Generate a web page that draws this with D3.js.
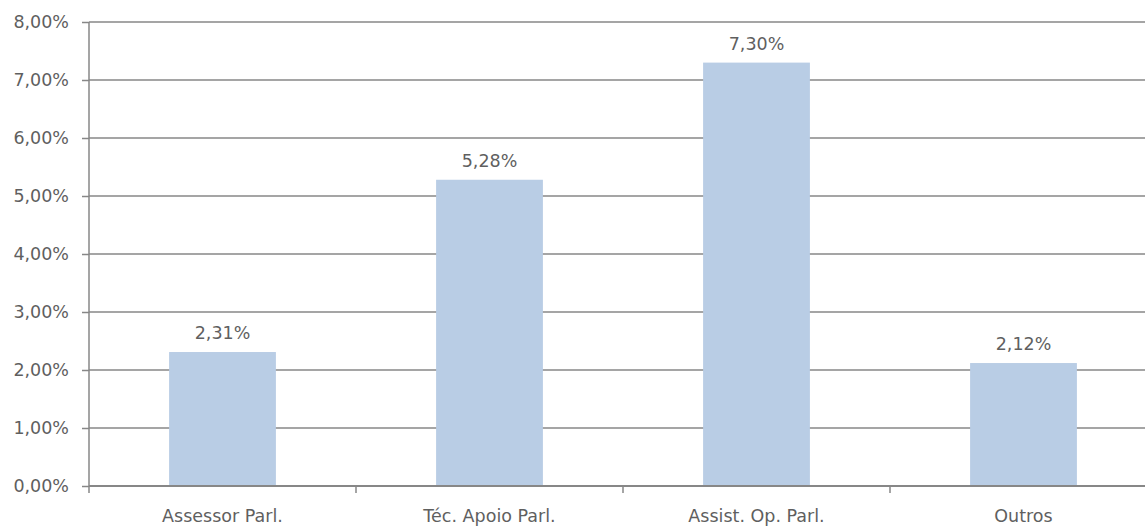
<!DOCTYPE html>
<html><head><meta charset="utf-8">
<script src="https://cdn.jsdelivr.net/npm/d3@7"></script>
<style>body{margin:0;background:#fff}svg text{font-family:"DejaVu Sans",sans-serif;fill:#5f5f5f}</style>
</head><body>
<svg id="c" width="1145" height="526"></svg>
<script>
const categories = ["Assessor Parl.", "Téc. Apoio Parl.", "Assist. Op. Parl.", "Outros"];
const values = [2.31, 5.28, 7.30, 2.12];
const yTicks = [0,1,2,3,4,5,6,7,8];

const svg = d3.select("#c");
const m = {l:89, t:22, r:1157, b:486};
const x = d3.scaleBand().domain(categories).range([m.l, m.r]).paddingInner(0.6).paddingOuter(0.3);
const xb = d3.scaleBand().domain(categories).range([m.l, m.r]);
const y = d3.scaleLinear().domain([0,8]).range([m.b, m.t]);
const fmt = v => v.toFixed(2).replace(".", ",") + "%";
const grid = "#878787";
const fs = 17.5;

svg.append("g").selectAll("line").data(yTicks).join("line")
  .attr("x1", m.l).attr("x2", m.r).attr("y1", d=>y(d)).attr("y2", d=>y(d))
  .attr("stroke", grid).attr("stroke-width", 1.5);

svg.append("g").selectAll("rect").data(values).join("rect")
  .attr("x", (d,i)=>x(categories[i])).attr("width", x.bandwidth())
  .attr("y", d=>y(d)).attr("height", d=>y(0)-y(d)).attr("fill", "#b9cde5");

const ya = svg.append("g").attr("transform", `translate(${m.l},0)`)
  .call(d3.axisLeft(y).tickValues(yTicks).tickFormat(d=>fmt(d)).tickSize(7).tickPadding(13));
ya.select(".domain").attr("stroke", grid).attr("stroke-width", 1.5).attr("d", `M0,${m.t}V${m.b}`);
ya.selectAll(".tick line").attr("stroke", grid).attr("stroke-width", 1.5);
ya.selectAll(".tick text").attr("font-size", fs).attr("fill", "#5f5f5f").attr("font-family", "DejaVu Sans");

// bottom axis
svg.append("line").attr("x1", m.l).attr("x2", m.r).attr("y1", m.b).attr("y2", m.b).attr("stroke", grid).attr("stroke-width", 2);
svg.append("g").selectAll("line").data(categories.concat(["_end"])).join("line")
  .attr("x1", (d,i)=> m.l + i*xb.bandwidth()).attr("x2", (d,i)=> m.l + i*xb.bandwidth())
  .attr("y1", m.b).attr("y2", m.b+7).attr("stroke", grid).attr("stroke-width", 1.5);
svg.append("g").selectAll("text").data(categories).join("text")
  .attr("x", d=>xb(d)+xb.bandwidth()/2).attr("y", 522).attr("text-anchor","middle")
  .attr("font-size", fs).text(d=>d);

svg.append("g").selectAll("text").data(values).join("text")
  .attr("x", (d,i)=>x(categories[i])+x.bandwidth()/2).attr("y", d=>y(d)-13)
  .attr("text-anchor","middle").attr("font-size", fs).text(d=>fmt(d));
</script></body></html>
